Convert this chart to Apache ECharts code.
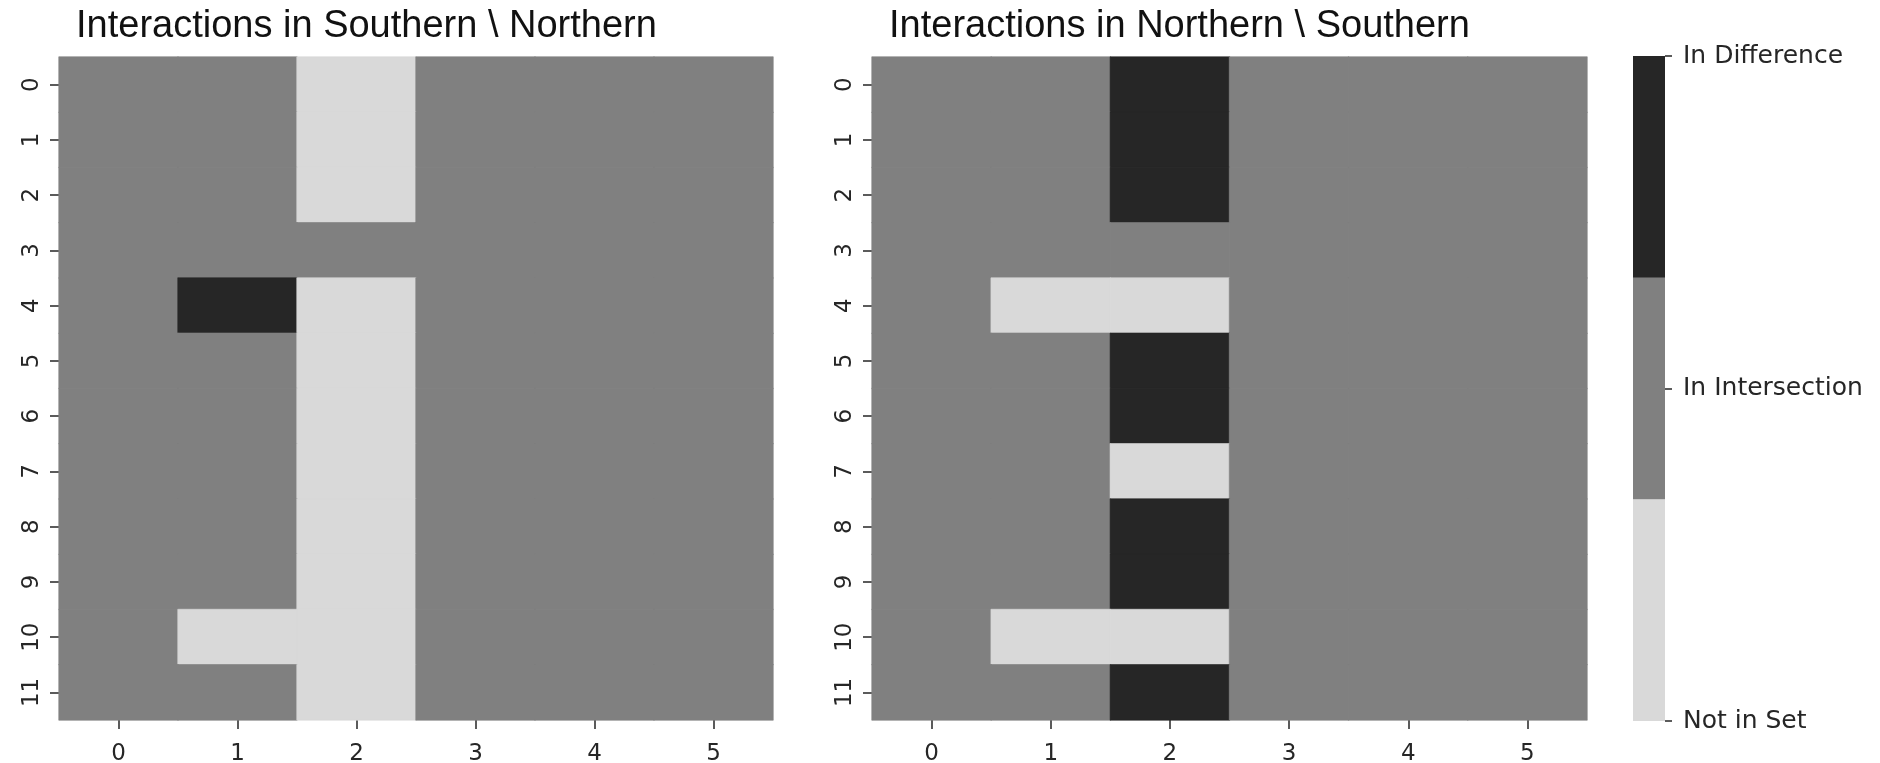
<!DOCTYPE html>
<html>
<head>
<meta charset="utf-8">
<script src="https://cdn.jsdelivr.net/npm/echarts@6/dist/echarts.min.js"></script>
<style>
html,body{margin:0;padding:0;background:#fff;}
#chart{width:1880px;height:763px;}
</style>
</head>
<body>
<div id="chart"></div>
<script>
// ---- data ----
const xLabels = ['0','1','2','3','4','5'];
const yLabels = ['0','1','2','3','4','5','6','7','8','9','10','11'];
// 0 = Not in Set, 1 = In Intersection, 2 = In Difference
const southernMinusNorthern = [
  [1,1,0,1,1,1],
  [1,1,0,1,1,1],
  [1,1,0,1,1,1],
  [1,1,1,1,1,1],
  [1,2,0,1,1,1],
  [1,1,0,1,1,1],
  [1,1,0,1,1,1],
  [1,1,0,1,1,1],
  [1,1,0,1,1,1],
  [1,1,0,1,1,1],
  [1,0,0,1,1,1],
  [1,1,0,1,1,1]
];
const northernMinusSouthern = [
  [1,1,2,1,1,1],
  [1,1,2,1,1,1],
  [1,1,2,1,1,1],
  [1,1,1,1,1,1],
  [1,0,0,1,1,1],
  [1,1,2,1,1,1],
  [1,1,2,1,1,1],
  [1,1,0,1,1,1],
  [1,1,2,1,1,1],
  [1,1,2,1,1,1],
  [1,0,0,1,1,1],
  [1,1,2,1,1,1]
];
const titles = ['Interactions in Southern \\ Northern', 'Interactions in Northern \\ Southern'];
const stateNames = ['Not in Set', 'In Intersection', 'In Difference'];
const stateColors = ['#d9d9d9', '#808080', '#262626'];
const colorbarTickValues = [0, 1.5, 3];
const colorbarSegments = [1, 1, 1];

// ---- build ----
function toCells(m) {
  const out = [];
  m.forEach((row, r) => row.forEach((v, c) => out.push({
    value: [c, r, v],
    itemStyle: {color: stateColors[v], borderColor: stateColors[v], borderWidth: 0.6}
  })));
  return out;
}
const tickFont = {fontFamily: 'DejaVu Sans', fontSize: 23, color: '#262626'};
const grids = [
  {left: 59, top: 57, width: 714, height: 663, outerBoundsMode: 'none', containLabel: false},
  {left: 872, top: 57, width: 715, height: 663, outerBoundsMode: 'none', containLabel: false},
  {left: 1633, top: 56, width: 32, height: 665, outerBoundsMode: 'none', containLabel: false}
];
const xAxes = [0, 1].map(i => ({
  type: 'category', gridIndex: i, data: xLabels, position: 'bottom',
  axisLine: {show: false},
  axisTick: {show: true, length: 9, alignWithLabel: true, lineStyle: {color: '#262626', width: 1.5}},
  axisLabel: Object.assign({margin: 23}, tickFont),
  splitLine: {show: false}
}));
xAxes.push({type: 'category', gridIndex: 2, data: [''], show: false});
const yAxes = [0, 1].map(i => ({
  type: 'category', gridIndex: i, data: yLabels, inverse: true,
  axisLine: {show: false},
  axisTick: {show: true, length: 9, alignWithLabel: true, lineStyle: {color: '#262626', width: 1.5}},
  axisLabel: Object.assign({margin: 15, rotate: 90}, tickFont),
  splitLine: {show: false}
}));
yAxes.push({
  type: 'value', gridIndex: 2, position: 'right', min: 0, max: 3, interval: 1.5,
  axisLine: {show: false},
  axisTick: {show: true, length: 7, lineStyle: {color: '#262626', width: 1.5}},
  axisLabel: Object.assign({}, tickFont, {
    margin: 18, fontSize: 25,
    formatter: v => {
      const idx = colorbarTickValues.indexOf(v);
      return idx >= 0 ? stateNames[idx] : '';
    }
  }),
  splitLine: {show: false}
});

const series = [southernMinusNorthern, northernMinusSouthern].map((m, i) => ({
  type: 'heatmap', xAxisIndex: i, yAxisIndex: i, data: toCells(m),
  emphasis: {disabled: true},
  progressive: 0, animation: false
}));
colorbarSegments.forEach((v, i) => {
  series.push({
    type: 'bar', xAxisIndex: 2, yAxisIndex: 2, stack: 'cb', data: [v],
    barWidth: '100%', itemStyle: {color: stateColors[i]},
    emphasis: {disabled: true}, animation: false
  });
});

const option = {
  backgroundColor: '#ffffff',
  animation: false,
  title: titles.map((t, i) => ({
    text: t, left: grids[i].left + 12, top: 3,
    textStyle: {fontFamily: 'Liberation Sans', fontSize: 38, fontWeight: 'normal', color: '#111'}
  })),
  grid: grids,
  xAxis: xAxes,
  yAxis: yAxes,
  series: series
};
const chart = echarts.init(document.getElementById('chart'), null, {renderer: 'canvas'});
chart.setOption(option);
</script>
</body>
</html>
